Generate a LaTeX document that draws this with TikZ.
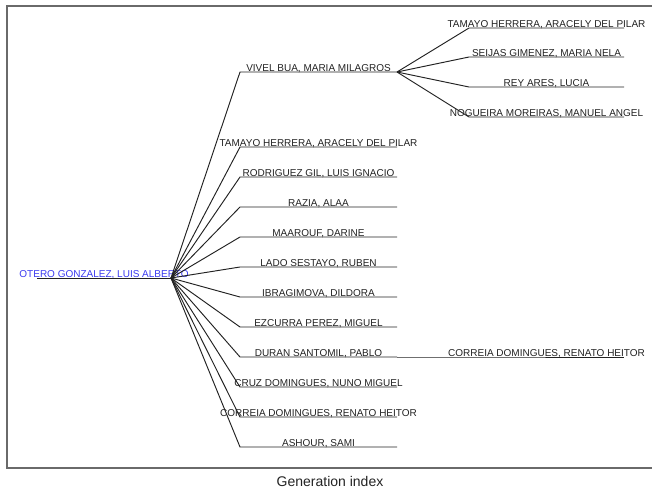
\documentclass[tikz,border=0pt]{standalone}
\usepackage{fontspec}
\setmainfont{Liberation Sans}
\usepackage{xcolor}
\usetikzlibrary{calc}
\definecolor{inkgray}{HTML}{222222}
\definecolor{rootblue}{HTML}{3A3AF0}
\definecolor{framegray}{HTML}{6A6A6A}

\begin{document}
\begin{tikzpicture}[x=1pt,y=-1pt,
		branch/.style={draw=inkgray, line width=0.95pt},
		person/.style={anchor=base, inner sep=0pt, text=inkgray, font=\fontsize{10}{12}\selectfont}]
			\useasboundingbox (0,0) rectangle (652,488);
			\draw [framegray, line width=1.3pt] (7,6) rectangle (680,468);
			% root of the tree
			\coordinate (hub) at (171,278);
			\node [person, text=rootblue] (otero) at (104,277) {OTERO GONZALEZ, LUIS ALBERTO};
			\draw [branch] (hub) -- ++(-134,0);
			% first generation
			\foreach \y/\who/\txt in {72/vivel/{VIVEL BUA, MARIA MILAGROS},
				147/tamayo/{TAMAYO HERRERA, ARACELY DEL PILAR},
				177/rodriguez/{RODRIGUEZ GIL, LUIS IGNACIO},
				207/razia/{RAZIA, ALAA},
				237/maarouf/{MAAROUF, DARINE},
				267/lado/{LADO SESTAYO, RUBEN},
				297/ibragimova/{IBRAGIMOVA, DILDORA},
				327/ezcurra/{EZCURRA PEREZ, MIGUEL},
				357/duran/{DURAN SANTOMIL, PABLO},
				387/cruz/{CRUZ DOMINGUES, NUNO MIGUEL},
				417/correia/{CORREIA DOMINGUES, RENATO HEITOR},
				447/ashour/{ASHOUR, SAMI}}{
				\coordinate (\who) at (240,\y);
				\node [person] (\who-name) at ($(\who)+(78.5,-1)$) {\txt};
				\draw [branch] (hub) -- (\who) -- ++(157,0) coordinate (\who-end);
			}
			% second generation
			\foreach \y/\who/\txt in {28/tamayoB/{TAMAYO HERRERA, ARACELY DEL PILAR},
				57/seijas/{SEIJAS GIMENEZ, MARIA NELA},
				87/rey/{REY ARES, LUCIA},
				117/nogueira/{NOGUEIRA MOREIRAS, MANUEL ANGEL}}{
				\coordinate (\who) at (469,\y);
				\node [person] (\who-name) at ($(\who)+(77.5,-1)$) {\txt};
				\draw [branch] (vivel-end) -- (\who) -- ++(155,0);
			}
			\coordinate (correiaB) at (469,357);
			\node [person] (correiaB-name) at ($(correiaB)+(77.5,-1)$) {CORREIA DOMINGUES, RENATO HEITOR};
			\draw [branch] (duran-end) -- (correiaB) -- ++(155,0);
			\node [anchor=base, inner sep=0pt, text=inkgray, font=\fontsize{14}{16}\selectfont] (caption) at (330,486) {Generation index};
		\end{tikzpicture}
\end{document}
